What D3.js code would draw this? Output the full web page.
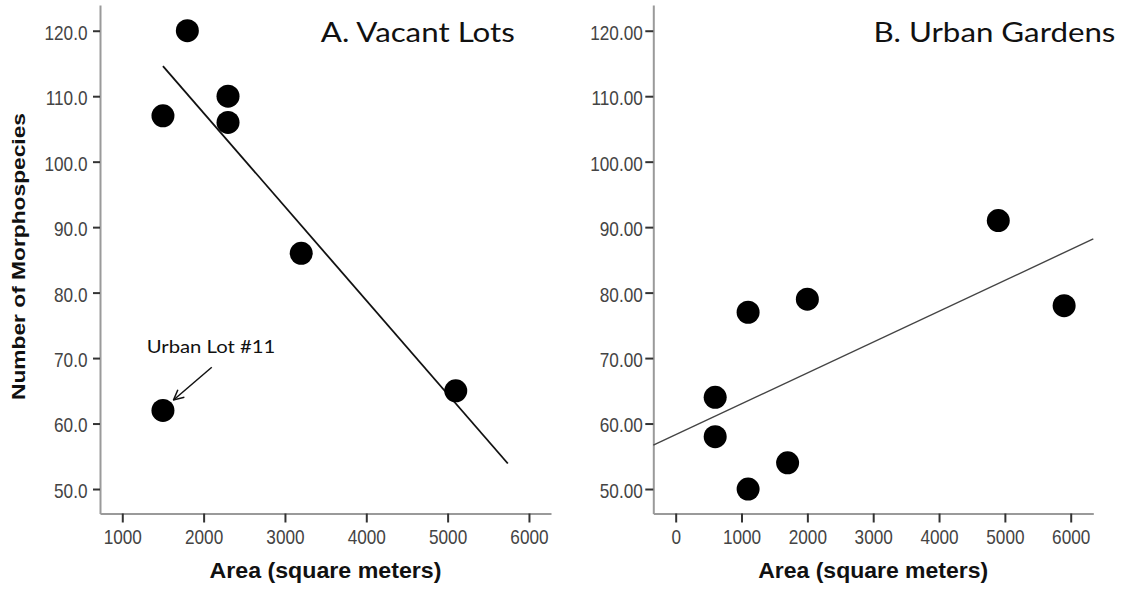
<!DOCTYPE html>
<html><head><meta charset="utf-8">
<script src="https://cdn.jsdelivr.net/npm/d3@7"></script>
<style>body{margin:0;background:#fff}</style>
</head><body><svg id="c" width="1131" height="590"></svg>
<script>
// ---- data ----
const yTicks = [50, 60, 70, 80, 90, 100, 110, 120];
const xTicksA = [1000, 2000, 3000, 4000, 5000, 6000];
const xTicksB = [0, 1000, 2000, 3000, 4000, 5000, 6000];
const areaA = [1500, 1800, 1500, 2300, 2300, 3200, 5100];
const speciesA = [107, 120, 62, 110, 106, 86, 65];
const areaB = [600, 600, 1100, 1100, 1700, 2000, 4900, 5900];
const speciesB = [64, 58, 77, 50, 54, 79, 91, 78];
const fitA = [[1500, 114.6], [5740, 53.9]];
const fitB = [[-340, 56.7], [6343, 88.2]];
const annotLabel = "Urban Lot #11";
const annotText = [1300, 70.7];
const annotArrow = [[2100, 68.6], [1630, 63.6]];
const titleA = "A. Vacant Lots", titleB = "B. Urban Gardens";
const xTitle = "Area (square meters)", yTitle = "Number of Morphospecies";

const svg = d3.select("#c");
const y = d3.scaleLinear().domain([46.26, 123.93]).range([513.5, 5]);
const xA = d3.scaleLinear().domain([726, 6271]).range([100, 551]);
const xB = d3.scaleLinear().domain([-340, 6343]).range([653.3, 1093.3]);

svg.append("defs").append("marker")
  .attr("id", "arr").attr("markerUnits", "userSpaceOnUse")
  .attr("viewBox", "0 0 12 12").attr("refX", 11).attr("refY", 6)
  .attr("markerWidth", 12).attr("markerHeight", 12).attr("orient", "auto")
  .append("path").attr("d", "M1,1 L11,6 L1,11").attr("fill", "none")
  .attr("stroke", "#111").attr("stroke-width", 1.5);

const SX = 0.86;
const FS = 20;
function panel(x, xt, yfmt, ytick, ypad, xs, ys, fit, fitColor, fitW, title, titleX, titleLen, xTitleX, xTitleLen) {
  const gy = svg.append("g").attr("transform", `translate(${x.range()[0]},0)`)
    .call(d3.axisLeft(y).tickValues(yTicks).tickFormat(d3.format(yfmt))
      .tickSize(ytick).tickSizeOuter(0));
  const gx = svg.append("g").attr("transform", `translate(0,${y.range()[0]})`)
    .call(d3.axisBottom(x).tickValues(xt).tickFormat(d3.format("d"))
      .tickSize(9).tickSizeOuter(0));
  [gy, gx].forEach(g => {
    g.select(".domain").attr("stroke", "#9a9a9a").attr("stroke-width", 2);
    g.selectAll(".tick line").attr("stroke", "#333").attr("stroke-width", 2);
    g.selectAll(".tick text").attr("font-family", "Liberation Sans, Arial, sans-serif")
      .attr("font-size", FS).attr("fill", "#444");
  });
  gy.selectAll(".tick text").attr("x", -(ytick + ypad) / SX).attr("dy", "0.42em")
    .attr("transform", `scale(${SX},1)`);
  gx.selectAll(".tick text").attr("x", 0).attr("y", 30.5).attr("dy", 0)
    .attr("transform", `scale(${SX},1)`);

  svg.append("line")
    .attr("x1", x(fit[0][0])).attr("y1", y(fit[0][1]))
    .attr("x2", x(fit[1][0])).attr("y2", y(fit[1][1]))
    .attr("stroke", fitColor).attr("stroke-width", fitW);

  svg.append("g").selectAll("circle").data(xs.map((d, i) => [d, ys[i]])).join("circle")
    .attr("cx", d => x(d[0])).attr("cy", d => y(d[1])).attr("r", 11.5).attr("fill", "#000");

  svg.append("text").attr("x", titleX).attr("y", 41.7)
    .attr("font-family", "Lato, 'Open Sans', sans-serif").attr("font-size", 26)
    .attr("fill", "#111").attr("textLength", titleLen).attr("lengthAdjust", "spacingAndGlyphs")
    .text(title);

  svg.append("text").attr("x", xTitleX).attr("y", 578).attr("text-anchor", "middle")
    .attr("font-family", "Liberation Sans, Arial, sans-serif").attr("font-weight", "bold")
    .attr("font-size", 22).attr("fill", "#111")
    .attr("textLength", xTitleLen).attr("lengthAdjust", "spacingAndGlyphs")
    .text(xTitle);
}

panel(xA, xTicksA, ".1f", 7, 5.5, areaA, speciesA, fitA, "#111", 1.8,
  titleA, 320.8, 194, 325.5, 232);
panel(xB, xTicksB, ".2f", 8, 2.5, areaB, speciesB, fitB, "#444", 1.4,
  titleB, 873.4, 242, 873.2, 230);

// y title
svg.append("text").attr("transform", "translate(25,256.5) rotate(-90)")
  .attr("text-anchor", "middle")
  .attr("font-family", "Liberation Sans, Arial, sans-serif").attr("font-weight", "bold")
  .attr("font-size", 18).attr("fill", "#111")
  .attr("textLength", 287).attr("lengthAdjust", "spacingAndGlyphs")
  .text(yTitle);

// annotation
svg.append("text").attr("x", xA(annotText[0])).attr("y", y(annotText[1]))
  .attr("font-family", "Lato, 'Open Sans', sans-serif").attr("font-size", 18)
  .attr("fill", "#111").attr("textLength", 128.7).attr("lengthAdjust", "spacingAndGlyphs")
  .text(annotLabel);
svg.append("line")
  .attr("x1", xA(annotArrow[0][0])).attr("y1", y(annotArrow[0][1]))
  .attr("x2", xA(annotArrow[1][0])).attr("y2", y(annotArrow[1][1]))
  .attr("stroke", "#111").attr("stroke-width", 1.5).attr("marker-end", "url(#arr)");
</script>
</body></html>
